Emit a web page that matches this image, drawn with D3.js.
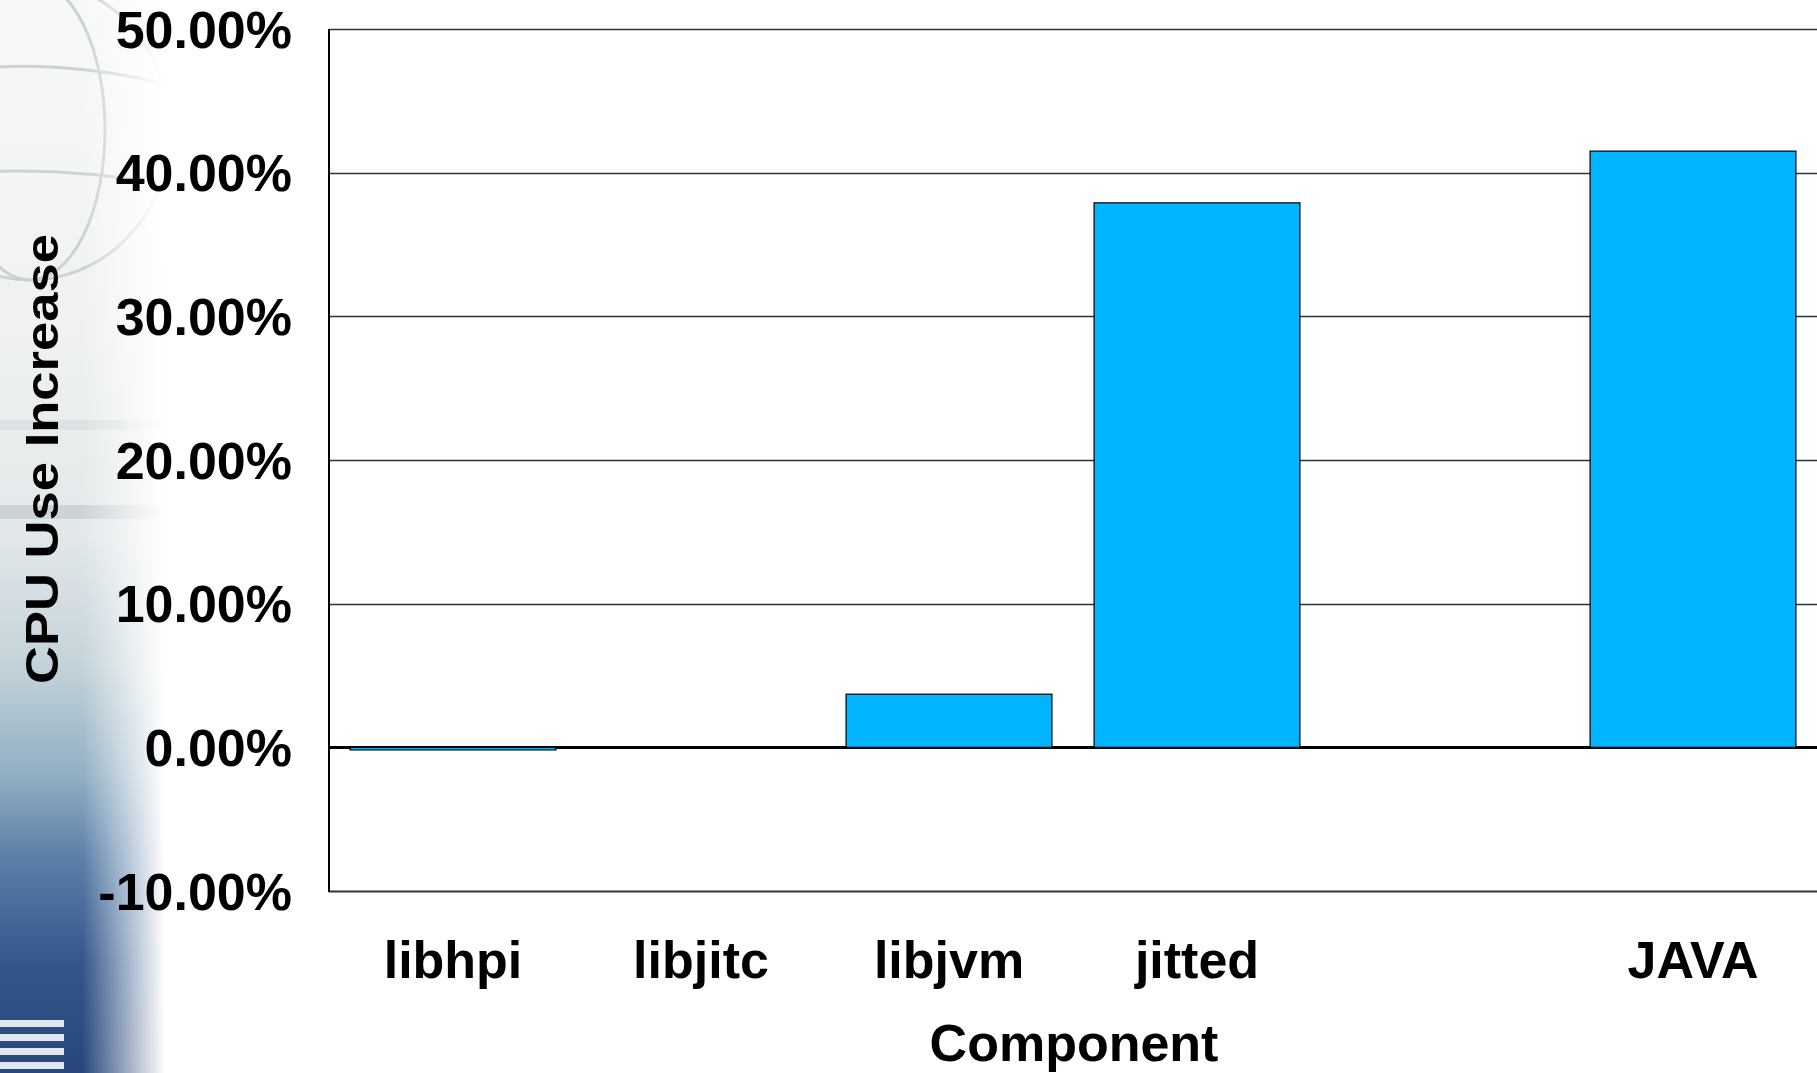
<!DOCTYPE html>
<html>
<head>
<meta charset="utf-8">
<script src="https://cdn.jsdelivr.net/npm/d3@7"></script>
<style>
  html, body { margin: 0; padding: 0; background: #ffffff; overflow: hidden; }
  svg { display: block; }
  text { font-family: "Liberation Sans", Arial, sans-serif; font-weight: bold; fill: #000; }
</style>
</head>
<body>
<svg id="chart" width="1817" height="1073"></svg>
<script>
// ---- data ----
const categories = ["libhpi", "libjitc", "libjvm", "jitted", "", "JAVA"];
const cpuIncrease = [-0.0018, 0.0, 0.037, 0.379, null, 0.415];
const yTicks = [-0.10, 0.0, 0.10, 0.20, 0.30, 0.40, 0.50];
const yTitle = "CPU Use Increase";
const xTitle = "Component";

const W = 1817, H = 1073;
const margin = { left: 329, right: 0, top: 29, bottom: 182 };
const svg = d3.select("#chart");

// ---- background decoration (slide template on the left) ----
const defs = svg.append("defs");
const vg = defs.append("linearGradient").attr("id", "vgrad")
  .attr("x1", 0).attr("y1", 0).attr("x2", 0).attr("y2", 1);
[[0, "#f7f8f8"], [0.3, "#f0f2f2"], [0.5, "#e2e8ea"], [0.62, "#c4d3da"],
 [0.72, "#93b0c4"], [0.8, "#5a7fa8"], [0.9, "#33568b"], [1, "#28487c"]]
  .forEach(([o, c]) => vg.append("stop").attr("offset", o).attr("stop-color", c));
const hg = defs.append("linearGradient").attr("id", "hgrad")
  .attr("x1", 0).attr("y1", 0).attr("x2", 1).attr("y2", 0);
[[0, "white", 1], [0.5, "white", 1], [0.8, "white", 0.4], [1, "white", 0]]
  .forEach(([o, c, a]) => hg.append("stop").attr("offset", o).attr("stop-color", c).attr("stop-opacity", a));
const mask = defs.append("mask").attr("id", "fade");
mask.append("rect").attr("x", 0).attr("y", 0).attr("width", 165).attr("height", H).attr("fill", "url(#hgrad)");

const bg = svg.append("g").attr("mask", "url(#fade)");
bg.append("rect").attr("x", 0).attr("y", 0).attr("width", 165).attr("height", H).attr("fill", "url(#vgrad)");
// faint globe lines
const globe = bg.append("g").attr("fill", "none").attr("stroke", "#c3cec6").attr("stroke-width", 3).attr("opacity", 0.85);
globe.append("ellipse").attr("cx", 30).attr("cy", 130).attr("rx", 140).attr("ry", 150);
globe.append("ellipse").attr("cx", 30).attr("cy", 130).attr("rx", 75).attr("ry", 150);
globe.append("path").attr("d", "M-100,80 Q30,50 170,85");
globe.append("path").attr("d", "M-100,180 Q30,160 170,185");
// blurred streaks
bg.append("rect").attr("x", 0).attr("y", 505).attr("width", 165).attr("height", 14).attr("fill", "#c2cbd0").attr("opacity", 0.7);
bg.append("rect").attr("x", 0).attr("y", 420).attr("width", 165).attr("height", 10).attr("fill", "#d3d9dc").attr("opacity", 0.6);
// IBM logo stripes
const logo = bg.append("g").attr("fill", "#dfe6f2");
for (let i = 0; i < 4; i++) {
  logo.append("rect").attr("x", 0).attr("y", 1020 + i * 14).attr("width", 64).attr("height", 7);
}

// ---- scales ----
const x = d3.scaleBand().domain(categories.map((c, i) => i))
  .range([margin.left, W - margin.right]).paddingInner(0.17).paddingOuter(0.085);
const y = d3.scaleLinear().domain([-0.10, 0.50]).range([H - margin.bottom, margin.top]);

// plot background
svg.append("rect").attr("x", margin.left).attr("y", y(0.5))
  .attr("width", W - margin.left).attr("height", y(-0.1) - y(0.5)).attr("fill", "#ffffff");

// gridlines
svg.append("g").selectAll("line").data(yTicks).join("line")
  .attr("x1", margin.left).attr("x2", W)
  .attr("y1", d => Math.round(y(d)) + 0.5).attr("y2", d => Math.round(y(d)) + 0.5)
  .attr("stroke", d => d === 0 ? "#000" : "#333")
  .attr("stroke-width", d => d === 0 ? 3 : (d === -0.1 ? 2 : 1.5));

// bars
svg.append("g").selectAll("rect")
  .data(cpuIncrease.map((v, i) => ({ i, v })).filter(d => d.v !== null))
  .join("rect")
  .attr("x", d => x(d.i))
  .attr("width", x.bandwidth())
  .attr("y", d => y(Math.max(0, d.v)))
  .attr("height", d => Math.abs(y(d.v) - y(0)))
  .attr("fill", "#00b4ff")
  .attr("stroke", "#000")
  .attr("stroke-width", 1.2);

// left axis line
svg.append("line").attr("x1", margin.left).attr("x2", margin.left)
  .attr("y1", y(0.5)).attr("y2", y(-0.1) + 1).attr("stroke", "#000").attr("stroke-width", 2);

// y axis labels via d3 axis (ASCII hyphen for negatives)
const fmt = d3.format(".2%");
const yAxis = d3.axisLeft(y).tickValues(yTicks).tickFormat(d => fmt(d).replace("\u2212", "-")).tickSize(0).tickPadding(37);
const yg = svg.append("g").attr("transform", `translate(${margin.left},0)`).call(yAxis);
yg.select(".domain").remove();
yg.selectAll("text").attr("font-size", 52).attr("font-family", "Liberation Sans, Arial, sans-serif")
  .attr("font-weight", "bold").attr("fill", "#000").attr("dy", "0.35em");

// x axis labels
const xAxis = d3.axisBottom(x).tickFormat(i => categories[i]).tickSize(0).tickPadding(0);
const xg = svg.append("g").attr("transform", `translate(0,${y(-0.1)})`).call(xAxis);
xg.select(".domain").remove();
xg.selectAll("text").attr("font-size", 52).attr("font-family", "Liberation Sans, Arial, sans-serif")
  .attr("font-weight", "bold").attr("fill", "#000").attr("y", 87).attr("dy", 0);

// titles
svg.append("text").attr("x", 1074).attr("y", 1061).attr("text-anchor", "middle")
  .attr("font-size", 52).text(xTitle);
svg.append("text").attr("transform", "translate(58,459) rotate(-90)")
  .attr("text-anchor", "middle").attr("font-size", 47)
  .attr("textLength", 450).attr("lengthAdjust", "spacingAndGlyphs").text(yTitle);
</script>
</body>
</html>
